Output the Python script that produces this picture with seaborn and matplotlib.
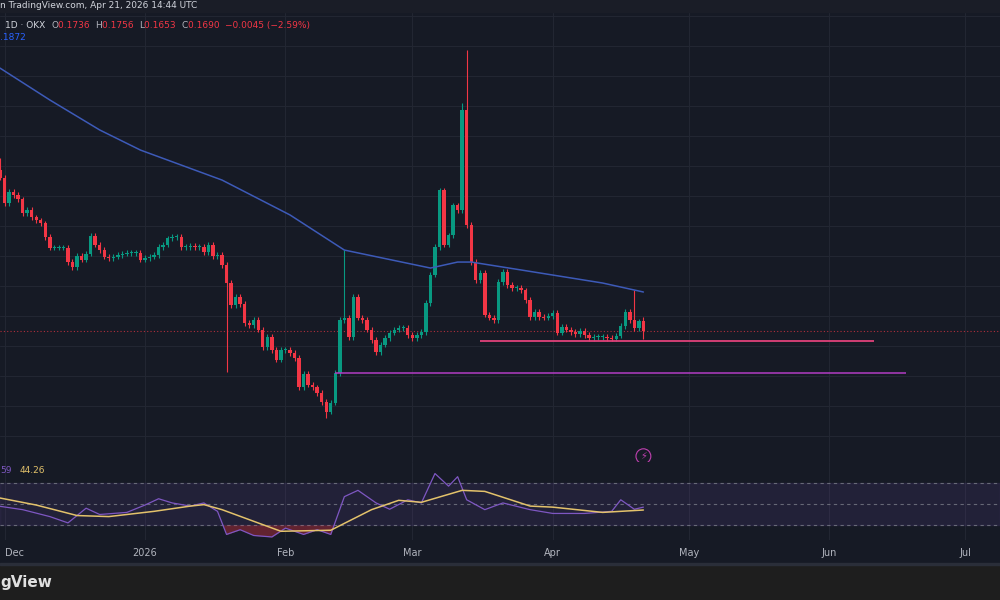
import numpy as np
import pandas as pd
import matplotlib
matplotlib.use("Agg")
import matplotlib.pyplot as plt
import seaborn as sns

# daily closes (OKX, 1D)
close = [
    0.2405, 0.2288, 0.2339, 0.2325, 0.2306, 0.2241, 0.2255, 0.2222, 0.2208, 0.2194,
    0.2129, 0.2078, 0.2078, 0.2078, 0.2078, 0.2012, 0.1989, 0.2040, 0.2022, 0.2050,
    0.2134, 0.2092, 0.2068, 0.2036, 0.2031, 0.2036, 0.2045, 0.2050, 0.2054, 0.2054,
    0.2054, 0.2022, 0.2031, 0.2036, 0.2045, 0.2082, 0.2092, 0.2124, 0.2129, 0.2129,
    0.2082, 0.2082, 0.2087, 0.2082, 0.2082, 0.2059, 0.2092,
    0.2040, 0.2045, 0.1998, 0.1914, 0.1811, 0.1849, 0.1816, 0.1727, 0.1718, 0.1741,
    0.1695, 0.1615, 0.1662, 0.1601, 0.1555, 0.1601, 0.1601, 0.1587, 0.1564, 0.1428,
    0.1489, 0.1438, 0.1428, 0.1400, 0.1358, 0.1312, 0.1354, 0.1494, 0.1741,
    0.1751, 0.1662, 0.1849, 0.1751, 0.1741, 0.1695, 0.1648, 0.1592, 0.1625, 0.1657,
    0.1681, 0.1695, 0.1704, 0.1704, 0.1671, 0.1657, 0.1671, 0.1685, 0.1821, 0.1952,
    0.2082, 0.2348, 0.2092, 0.2138, 0.2278, 0.2255, 0.2722, 0.2185, 0.2012, 0.1928,
    0.1961, 0.1765, 0.1751, 0.1741, 0.1919, 0.1966, 0.1905, 0.1891, 0.1891, 0.1881,
    0.1835, 0.1755, 0.1779, 0.1755, 0.1751, 0.1760, 0.1774, 0.1681, 0.1709, 0.1695,
    0.1685, 0.1676, 0.1690, 0.1671, 0.1657, 0.1662, 0.1662, 0.1662, 0.1657, 0.1653,
    0.1667, 0.1713, 0.1779, 0.1741, 0.1704, 0.1736, 0.1690,
]
first_open = 0.2440
wick = 0.0012
high_override = {0: 0.2498, 76: 0.2068, 102: 0.2755, 103: 0.3002, 140: 0.1881, 142: 0.1756}
low_override = {50: 0.1499, 72: 0.1284, 142: 0.1653}

# 200-day moving average, read at a few dates
ma_dates = ["2025-11-30", "2025-12-11", "2025-12-22", "2025-12-31", "2026-01-18", "2026-02-02",
            "2026-02-14", "2026-03-05", "2026-03-11", "2026-03-14", "2026-03-25", "2026-04-12", "2026-04-21"]
ma_vals = [0.2918, 0.2769, 0.2629, 0.2535, 0.2395, 0.2232, 0.2068, 0.1984, 0.2012, 0.2012,
           0.1975, 0.1914, 0.1872]

rsi_dates = ["2025-11-30", "2025-12-05", "2025-12-11", "2025-12-15", "2025-12-19", "2025-12-22",
             "2025-12-28", "2026-01-01", "2026-01-04", "2026-01-07", "2026-01-11", "2026-01-14",
             "2026-01-17", "2026-01-19", "2026-01-22", "2026-01-25", "2026-01-29", "2026-02-01",
             "2026-02-05", "2026-02-08", "2026-02-11", "2026-02-14", "2026-02-17", "2026-02-21",
             "2026-02-24", "2026-02-28", "2026-03-03", "2026-03-06", "2026-03-09", "2026-03-11",
             "2026-03-13", "2026-03-17", "2026-03-21", "2026-03-27", "2026-04-01", "2026-04-08",
             "2026-04-14", "2026-04-16", "2026-04-19", "2026-04-21"]
rsi_vals = [47.8, 44.6, 38, 32, 46, 40, 42, 49, 55, 51, 48, 51, 43, 21, 25.5, 20, 18.6, 27,
            21, 25.5, 21, 57, 63, 51, 45, 54, 51, 79, 67, 76, 54, 44.6, 51, 44.6, 41, 41,
            43, 54, 45, 47]
rsi_ma_dates = ["2025-11-30", "2025-12-08", "2025-12-17", "2025-12-24", "2026-01-03", "2026-01-11",
                "2026-01-14", "2026-01-18", "2026-01-25", "2026-01-31", "2026-02-11", "2026-02-20",
                "2026-02-26", "2026-03-03", "2026-03-12", "2026-03-17", "2026-03-27", "2026-04-01",
                "2026-04-12", "2026-04-21"]
rsi_ma_vals = [55.7, 49, 39, 38, 43, 48, 49.4, 44.6, 33.5, 24, 25, 44.6, 53.5, 51.6, 63, 62,
               48, 47, 42, 44.26]

support_1 = 0.1643   # pink line
support_2 = 0.1494   # purple line
month_ticks = ["2025-12-01", "2026-01-01", "2026-02-01", "2026-03-01", "2026-04-01",
               "2026-05-01", "2026-06-01", "2026-07-01"]
month_labels = ["Dec", "2026", "Feb", "Mar", "Apr", "May", "Jun", "Jul"]

BG = "#161a25"
GRID = "#222632"
UP = "#089981"
DOWN = "#f23645"
TXT = "#b2b5be"

dates = pd.date_range(end="2026-04-21", periods=len(close), freq="D")
df = pd.DataFrame({"date": dates, "close": close})
df["open"] = [first_open] + close[:-1]
df.loc[len(df) - 1, "open"] = 0.1736
df["high"] = np.maximum(df["open"], df["close"]) + wick
df["low"] = np.minimum(df["open"], df["close"]) - wick
for k, v in high_override.items():
    df.loc[k, "high"] = v
for k, v in low_override.items():
    df.loc[k, "low"] = v
df["up"] = df["close"] >= df["open"]

ma = pd.DataFrame({"date": pd.to_datetime(ma_dates), "v": ma_vals})
rsi = pd.DataFrame({"date": pd.to_datetime(rsi_dates), "v": rsi_vals})
rsi_ma = pd.DataFrame({"date": pd.to_datetime(rsi_ma_dates), "v": rsi_ma_vals})

sns.set_theme(style="dark")
plt.rcParams["font.family"] = ["DejaVu Sans"]

fig = plt.figure(figsize=(10, 6), dpi=100, facecolor=BG)
ax = fig.add_axes([0, 0.23, 1, 0.75], facecolor=BG)
ax2 = fig.add_axes([0, 0.10, 1, 0.13], facecolor=BG)

x0 = pd.Timestamp("2025-11-30")
x1 = x0 + pd.Timedelta(days=220.7)
for a in (ax, ax2):
    a.set_xlim(x0, x1)
    for s in a.spines.values():
        s.set_visible(False)
    for t in month_ticks:
        a.axvline(pd.Timestamp(t), color=GRID, lw=0.8, zorder=0)

ax.set_ylim(0.1078, 0.3180)
for yv in np.arange(0.12, 0.32, 0.014):
    ax.axhline(yv, color=GRID, lw=0.8, zorder=0)

col = np.where(df["up"], UP, DOWN)
ax.vlines(df["date"], df["low"], df["high"], colors=col, lw=0.8, zorder=2)
body_h = (df["close"] - df["open"]).abs().clip(lower=0.0004)
ax.bar(df["date"], body_h, bottom=np.minimum(df["open"], df["close"]), width=0.75,
       color=col, edgecolor="none", linewidth=0, zorder=3)

sns.lineplot(data=ma, x="date", y="v", ax=ax, color="#3d5ab8", lw=1.1, zorder=4)
ax.axhline(close[-1], color=DOWN, lw=0.8, ls=(0, (1, 2)), alpha=0.7, zorder=1)
ax.hlines(support_1, pd.Timestamp("2026-03-16"), pd.Timestamp("2026-06-11"),
          color="#e0417a", lw=1.3, zorder=5)
ax.hlines(support_2, pd.Timestamp("2026-02-12"), pd.Timestamp("2026-06-18"),
          color="#b23cc4", lw=1.1, zorder=5)
ax.text(pd.Timestamp("2026-04-21"), 0.1105, "⚡", color="#c040b0", fontsize=7,
        ha="center", va="center",
        bbox=dict(boxstyle="circle,pad=0.25", fc=BG, ec="#c040b0", lw=0.8))
ax.set_xticks([])
ax.set_yticks([])
ax.set_xlabel("")
ax.set_ylabel("")

# RSI pane
ax2.set_ylim(15.7, 90)
ax2.axhspan(30, 70, color="#7e57c2", alpha=0.12, zorder=0)
for lv in (30, 50, 70):
    ax2.axhline(lv, color="#787b86", lw=0.8, ls=(0, (3, 3)), alpha=0.8, zorder=1)
ax2.fill_between(rsi["date"], rsi["v"], 30, where=rsi["v"] < 30, interpolate=True,
                 color=DOWN, alpha=0.35, lw=0)
sns.lineplot(data=rsi, x="date", y="v", ax=ax2, color="#7e57c2", lw=0.9, zorder=3)
sns.lineplot(data=rsi_ma, x="date", y="v", ax=ax2, color="#e3c26b", lw=1.1, zorder=4)
ax2.set_xticks(pd.to_datetime(month_ticks))
ax2.set_xticklabels(month_labels, color=TXT, fontsize=7)
ax2.get_xticklabels()[0].set_horizontalalignment("left")
ax2.tick_params(axis="x", length=0, pad=6)
ax2.set_yticks([])
ax2.set_xlabel("")
ax2.set_ylabel("")
ax2.text(0.0, 0.86, "59", transform=ax2.transAxes, color="#7e57c2", fontsize=6.5)
ax2.text(0.02, 0.86, "44.26", transform=ax2.transAxes, color="#e3c26b", fontsize=6.5)

# header, legend and bottom bar
fig.add_artist(plt.Rectangle((0, 0.98), 1, 0.02, transform=fig.transFigure, color="#1a1d27"))
fig.text(0.0, 0.99, "n TradingView.com, Apr 21, 2026 14:44 UTC", color="#d1d4dc",
         fontsize=6.5, va="center")
parts = [("1D · OKX  ", "#d1d4dc"), ("O", TXT), ("0.1736  ", DOWN), ("H", TXT), ("0.1756  ", DOWN),
         ("L", TXT), ("0.1653  ", DOWN), ("C", TXT), ("0.1690  ", DOWN), ("−0.0045 (−2.59%)", DOWN)]
xp = 0.005
for s, c in parts:
    t = fig.text(xp, 0.957, s, color=c, fontsize=6.5, va="center")
    fig.canvas.draw()
    bb = t.get_window_extent()
    xp += bb.width / fig.bbox.width
fig.text(0.0, 0.938, ".1872", color="#2962ff", fontsize=6.5, va="center")

fig.add_artist(plt.Rectangle((0, 0), 1, 0.058, transform=fig.transFigure, color="#1e1e1e"))
fig.add_artist(plt.Rectangle((0, 0.058), 1, 0.004, transform=fig.transFigure, color="#2a2e39"))
fig.text(0.0, 0.03, "gView", color="#e0e0e0", fontsize=11, va="center", weight="bold")

fig.savefig("out.png", dpi=100, facecolor=BG)
